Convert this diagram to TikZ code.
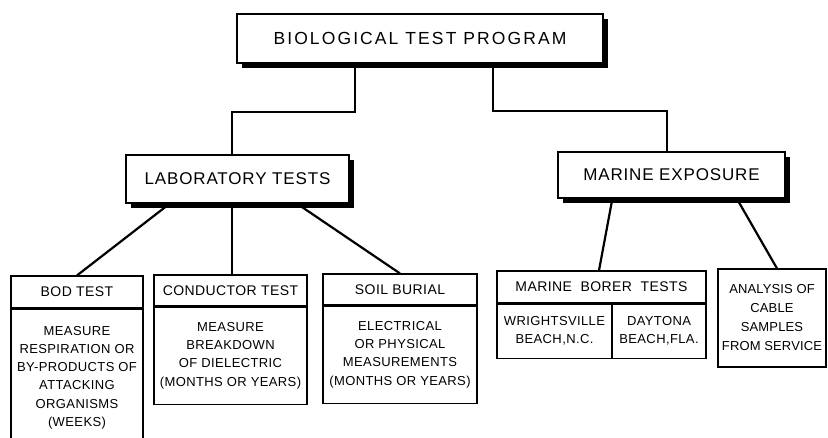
\documentclass[tikz,border=0pt]{standalone}
\usepackage{fontspec}
\setmainfont{Liberation Sans}
\newfontfamily\topfont[LetterSpace=12]{Liberation Sans}
\newfontfamily\midfont[LetterSpace=5]{Liberation Sans}
\newfontfamily\botfont[LetterSpace=3]{Liberation Sans}
\newfontfamily\tightfont[LetterSpace=1]{Liberation Sans}
\usetikzlibrary{shadows}
\begin{document}
\begin{tikzpicture}[x=1pt,y=-1pt,
  shbox/.style={draw, line width=1.4pt, fill=white, inner sep=0pt,
    drop shadow={fill=black, opacity=1, shadow xshift=5pt, shadow yshift=-5pt}},
  hdrbox/.style={draw, line width=1.1pt, inner sep=0pt, align=center,
    font=\botfont\fontsize{14}{17}\selectfont},
  bodybox/.style={draw, line width=1.1pt, inner sep=0pt, align=center,
    font=\botfont\fontsize{13}{18.3}\selectfont},
  conn/.style={line width=2.2pt}]
\clip (0,0) rectangle (828,438);
\fill[white] (0,0) rectangle (828,438);

% top level
\node[shbox, minimum width=366pt, minimum height=49pt,
  font=\topfont\fontsize{17.5}{20}\selectfont] (top) at (420,38.5) {BIOLOGICAL TEST PROGRAM};

% second level
\node[shbox, minimum width=223pt, minimum height=48pt,
  font=\midfont\fontsize{17}{20}\selectfont] (lab) at (237.5,179) {LABORATORY TESTS};
\node[shbox, minimum width=227pt, minimum height=46pt,
  font=\midfont\fontsize{17}{20}\selectfont] (marine) at (671.5,175) {MARINE EXPOSURE};

% bottom boxes
\node[hdrbox, minimum width=132pt, minimum height=32pt] (bodh) at (77,292) {BOD TEST};
\node[bodybox, minimum width=132pt, minimum height=137pt, anchor=north] (bodb) at (bodh.south)
  {MEASURE\\RESPIRATION OR\\BY-PRODUCTS OF\\ATTACKING\\ORGANISMS\\(WEEKS)};

\node[hdrbox, minimum width=153pt, minimum height=31pt] (condh) at (230.5,290.5) {CONDUCTOR TEST};
\node[bodybox, minimum width=153pt, minimum height=97pt, anchor=north] (condb) at (condh.south)
  {MEASURE\\BREAKDOWN\\OF DIELECTRIC\\(MONTHS OR YEARS)};

\node[hdrbox, minimum width=154pt, minimum height=31pt] (soilh) at (400,289.5) {SOIL BURIAL};
\node[bodybox, minimum width=154pt, minimum height=97pt, anchor=north] (soilb) at (soilh.south)
  {ELECTRICAL\\OR PHYSICAL\\MEASUREMENTS\\(MONTHS OR YEARS)};

\node[hdrbox, minimum width=209pt, minimum height=32pt] (borerh) at (601.5,287) {MARINE\ \ BORER\ \ TESTS};
\node[bodybox, minimum width=115pt, minimum height=54pt, anchor=north west] (wright) at (borerh.south west)
  {WRIGHTSVILLE\\BEACH,N.C.};
\node[bodybox, minimum width=94pt, minimum height=54pt, anchor=north east] (dayt) at (borerh.south east)
  {DAYTONA\\BEACH,FLA.};

\node[bodybox, minimum width=108pt, minimum height=98pt,
  font=\tightfont\fontsize{13}{19}\selectfont] (anal) at (772,318)
  {ANALYSIS OF\\CABLE\\SAMPLES\\FROM SERVICE};

% connectors
\draw[conn] ([xshift=-65pt]top.south) -- ++(0,48) -| ([xshift=-5.5pt]lab.north);
\draw[conn] ([xshift=73pt]top.south) -- ++(0,47) -| ([xshift=-4.5pt]marine.north);

\draw[conn] ([xshift=-70.5pt,yshift=-2pt]lab.south) -- (bodh.north);
\draw[conn] ([xshift=-5.5pt,yshift=-2pt]lab.south) -- ([xshift=1.5pt]condh.north);
\draw[conn] ([xshift=62.5pt,yshift=-2pt]lab.south) -- (soilh.north);

\draw[conn] ([xshift=-59.5pt,yshift=-2pt]marine.south) -- ([xshift=-2.5pt]borerh.north);
\draw[conn] ([xshift=66.5pt,yshift=-2pt]marine.south) -- ([xshift=5pt]anal.north);
\end{tikzpicture}
\end{document}
